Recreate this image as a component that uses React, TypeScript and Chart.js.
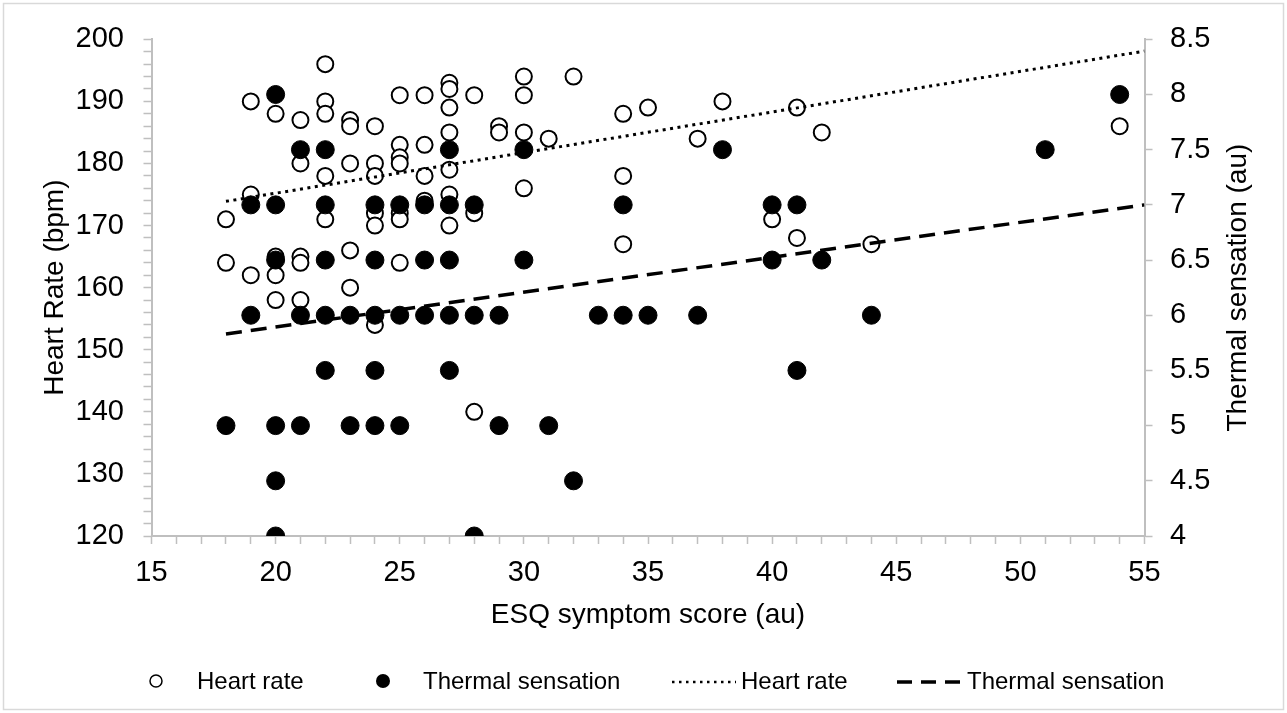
import React, { useEffect, useRef } from 'react';
import { Chart, registerables } from 'chart.js';

Chart.register(...registerables);

// ---------- data ----------
const hrScore = [
  18, 18,
  19, 19, 19,
  20, 20, 20, 20,
  21, 21, 21, 21, 21,
  22, 22, 22, 22, 22,
  23, 23, 23, 23, 23,
  24, 24, 24, 24, 24, 24,
  25, 25, 25, 25, 25, 25, 25,
  26, 26, 26, 26,
  27, 27, 27, 27, 27, 27, 27,
  28, 28, 28,
  29, 29,
  30, 30, 30, 30,
  31, 32,
  34, 34, 34,
  35, 37, 38, 40,
  41, 41,
  42, 44, 54,
];
const hrValues = [
  171, 164,
  190, 175, 162,
  188, 165, 162, 158,
  187, 180, 165, 164, 158,
  196, 190, 188, 178, 171,
  187, 186, 180, 166, 160,
  186, 180, 178, 172, 170, 154,
  191, 183, 181, 180, 172, 171, 164,
  191, 183, 178, 174,
  193, 192, 189, 185, 179, 175, 170,
  191, 172, 140,
  186, 185,
  194, 191, 185, 176,
  184, 194,
  188, 178, 167,
  189, 184, 190, 171,
  189, 168,
  185, 167, 186,
];

const tsScore = [
  18,
  19, 19,
  20, 20, 20, 20, 20, 20,
  21, 21, 21,
  22, 22, 22, 22, 22,
  23, 23,
  24, 24, 24, 24, 24,
  25, 25, 25,
  26, 26, 26,
  27, 27, 27, 27, 27,
  28, 28, 28,
  29, 29,
  30, 30,
  31, 32, 33,
  34, 34,
  35, 37, 38,
  40, 40,
  41, 41,
  42, 44, 51, 54,
];
const tsValues = [
  5,
  7, 6,
  8, 7, 6.5, 5, 4.5, 4,
  7.5, 6, 5,
  7.5, 7, 6.5, 6, 5.5,
  6, 5,
  7, 6.5, 6, 5.5, 5,
  7, 6, 5,
  7, 6.5, 6,
  7.5, 7, 6.5, 6, 5.5,
  7, 6, 4,
  6, 5,
  7.5, 6.5,
  5, 4.5, 6,
  7, 6,
  6, 6, 7.5,
  7, 6.5,
  7, 5.5,
  6.5, 6, 7.5, 8,
];

// trend lines (end points)
const trendScore = [18, 55];
const hrTrend = [173.9, 198.1];
const tsTrend = [5.83, 7.0];

// axis settings
const xTicksMajor = 5;
const hrRange = [120, 200];
const tsRange = [4, 8.5];
const xRange = [15, 55];

const labels = {
  x: 'ESQ symptom score (au)',
  y: 'Heart Rate (bpm)',
  y1: 'Thermal sensation (au)',
  hr: 'Heart rate',
  ts: 'Thermal sensation',
};

const W = 1287;
const H = 713;
const FONT = '"Liberation Sans", Arial, Helvetica, sans-serif';
const AXIS = '#bfbfbf';

const pts = (xs: number[], ys: number[]) => xs.map((x, i) => ({ x, y: ys[i] }));

export default function App() {
  const ref = useRef<HTMLCanvasElement>(null);

  useEffect(() => {
    const canvas = ref.current;
    if (!canvas) return;

    const frame = {
      id: 'frame',
      beforeDraw(chart: any) {
        const c = chart.ctx;
        c.save();
        c.fillStyle = '#ffffff';
        c.fillRect(0, 0, W, H);
        c.strokeStyle = '#d9d9d9';
        c.lineWidth = 1.5;
        c.strokeRect(3.5, 3.5, W - 7, H - 7);
        c.restore();
      },
    };

    const extras = {
      id: 'extras',
      afterDraw(chart: any) {
        const c = chart.ctx;
        const y1 = chart.scales.y1;
        c.save();
        // right axis title, reading bottom to top
        c.font = `28px ${FONT}`;
        c.fillStyle = '#000';
        c.textAlign = 'center';
        c.textBaseline = 'middle';
        c.translate(1238, (y1.top + y1.bottom) / 2);
        c.rotate(-Math.PI / 2);
        c.fillText(labels.y1, 0, 0);
        c.restore();

        // legend
        const ly = 681;
        c.save();
        c.font = `24px ${FONT}`;
        c.fillStyle = '#000';
        c.textAlign = 'left';
        c.textBaseline = 'middle';
        // open marker
        c.beginPath();
        c.arc(156, ly, 6, 0, Math.PI * 2);
        c.fillStyle = '#fff';
        c.fill();
        c.lineWidth = 1.5;
        c.strokeStyle = '#000';
        c.stroke();
        c.fillStyle = '#000';
        c.fillText(labels.hr, 197, ly + 1);
        // filled marker
        c.beginPath();
        c.arc(383, ly, 7, 0, Math.PI * 2);
        c.fill();
        c.fillText(labels.ts, 423, ly + 1);
        // dotted line
        c.beginPath();
        c.setLineDash([2.5, 4.5]);
        c.lineWidth = 2.5;
        c.moveTo(672, ly + 1);
        c.lineTo(736, ly + 1);
        c.stroke();
        c.fillText(labels.hr, 741, ly + 1);
        // dashed line
        c.beginPath();
        c.setLineDash([15, 9]);
        c.lineWidth = 3.5;
        c.moveTo(897, ly + 1);
        c.lineTo(963, ly + 1);
        c.stroke();
        c.setLineDash([]);
        c.fillText(labels.ts, 967, ly + 1);
        c.restore();
      },
    };

    const gridOpts = {
      drawOnChartArea: false,
      drawTicks: true,
      tickLength: 8,
      tickColor: AXIS,
      tickWidth: 1.5,
      color: AXIS,
    };
    const tickFont = { family: FONT, size: 29 };

    const chart = new Chart(canvas, {
      type: 'scatter',
      data: {
        datasets: [
          {
            label: labels.hr + ' trend',
            data: pts(trendScore, hrTrend),
            showLine: true,
            borderColor: '#000',
            borderWidth: 3,
            borderDash: [3, 4.5],
            pointRadius: 0,
            yAxisID: 'y',
            order: 0,
          },
          {
            label: labels.ts + ' trend',
            data: pts(trendScore, tsTrend),
            showLine: true,
            borderColor: '#000',
            borderWidth: 3.5,
            borderDash: [16, 9],
            pointRadius: 0,
            yAxisID: 'y1',
            order: 0,
          },
          {
            label: labels.ts,
            data: pts(tsScore, tsValues),
            backgroundColor: '#000',
            borderColor: '#000',
            borderWidth: 1,
            pointRadius: 9,
            yAxisID: 'y1',
            order: 1,
          },
          {
            label: labels.hr,
            data: pts(hrScore, hrValues),
            backgroundColor: '#fff',
            borderColor: '#000',
            borderWidth: 2,
            pointRadius: 8,
            yAxisID: 'y',
            order: 2,
          },
        ],
      },
      options: {
        animation: false,
        responsive: false,
        maintainAspectRatio: false,
        events: [],
        layout: { padding: { top: 39.3, left: 0, right: 0, bottom: 0 } },
        plugins: {
          legend: { display: false },
          tooltip: { enabled: false },
        },
        scales: {
          x: {
            type: 'linear',
            position: 'bottom',
            min: xRange[0],
            max: xRange[1],
            ticks: {
              stepSize: 1,
              autoSkip: false,
              maxRotation: 0,
              minRotation: 0,
              padding: 12,
              color: '#000',
              font: tickFont,
              callback: (v: any) => (Number(v) % xTicksMajor === 0 ? String(v) : ''),
            },
            grid: gridOpts,
            border: { display: true, color: AXIS, width: 2 },
            title: {
              display: true,
              text: labels.x,
              color: '#000',
              font: { family: FONT, size: 28 },
              padding: { top: 0, bottom: 81 },
            },
            afterFit: (s: any) => {
              s.height = H - 536;
            },
          },
          y: {
            type: 'linear',
            position: 'left',
            min: hrRange[0],
            max: hrRange[1],
            ticks: {
              stepSize: 2,
              autoSkip: false,
              padding: 19.5,
              color: '#000',
              font: tickFont,
              callback: (v: any) => (Number(v) % 10 === 0 ? String(v) : ''),
            },
            grid: gridOpts,
            border: { display: true, color: AXIS, width: 2 },
            title: {
              display: true,
              text: labels.y,
              color: '#000',
              font: { family: FONT, size: 28 },
              padding: { top: 38, bottom: 0 },
            },
            afterFit: (s: any) => {
              s.width = 151.5;
            },
          },
          y1: {
            type: 'linear',
            position: 'right',
            min: tsRange[0],
            max: tsRange[1],
            ticks: {
              stepSize: 0.5,
              autoSkip: false,
              padding: 17.5,
              color: '#000',
              font: tickFont,
              callback: (v: any) => String(Math.round(Number(v) * 10) / 10),
            },
            grid: gridOpts,
            border: { display: true, color: AXIS, width: 2 },
            afterFit: (s: any) => {
              s.width = W - 1144.5;
            },
          },
        },
      },
      plugins: [frame, extras],
    } as any);

    return () => chart.destroy();
  }, []);

  return (
    <div style={{ position: 'fixed', left: 0, top: 0, width: W, height: H, background: '#fff' }}>
      <canvas ref={ref} width={W} height={H} style={{ width: W, height: H, display: 'block' }} />
    </div>
  );
}
